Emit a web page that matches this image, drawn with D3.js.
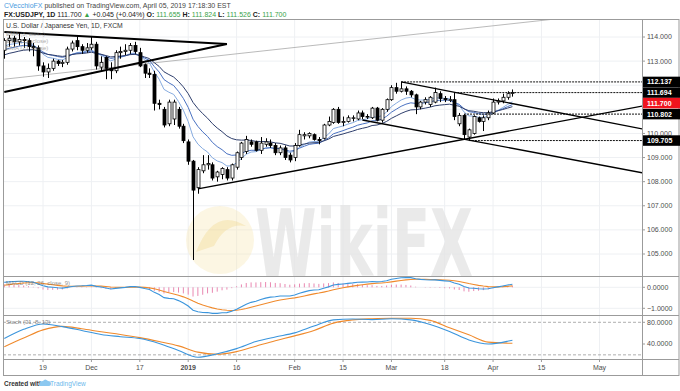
<!DOCTYPE html>
<meta charset="utf-8">
<style>
body { margin: 0; background: #fff; }
svg { display: block; font-family: "Liberation Sans", Arial, sans-serif; }
.tick-label { fill: #4d4d4d; font-size: 7px; }
</style>
<body>
<script src="https://d3js.org/d3.v7.min.js"></script>
<script>

// daily candles: date, open, high, low, close
var ohlc = [
  ["2018-11-07",113.45,113.95,113.10,113.85],["2018-11-08",113.85,114.08,113.60,113.95],
  ["2018-11-09",113.95,114.05,113.60,113.80],["2018-11-12",113.80,114.20,113.65,113.90],
  ["2018-11-13",113.90,114.00,113.55,113.85],["2018-11-14",113.85,113.95,113.40,113.60],
  ["2018-11-15",113.60,113.75,113.20,113.55],["2018-11-16",113.55,113.65,112.60,112.80],
  ["2018-11-19",112.80,112.95,112.35,112.55],["2018-11-20",112.55,112.90,112.30,112.70],
  ["2018-11-21",112.70,113.10,112.60,113.00],["2018-11-22",113.00,113.05,112.80,112.90],
  ["2018-11-23",112.90,113.05,112.75,112.95],["2018-11-26",112.95,113.60,112.85,113.50],
  ["2018-11-27",113.50,113.85,113.40,113.75],["2018-11-28",113.85,114.05,113.45,113.60],
  ["2018-11-29",113.60,113.70,113.30,113.45],["2018-11-30",113.45,113.75,113.35,113.55],
  ["2018-12-03",113.55,114.00,113.45,113.70],["2018-12-04",113.70,113.80,112.65,112.80],
  ["2018-12-05",112.75,113.20,112.55,112.95],["2018-12-06",113.15,113.20,112.25,112.70],
  ["2018-12-07",112.70,112.95,112.25,112.60],["2018-12-10",112.60,113.45,112.50,113.35],
  ["2018-12-11",113.35,113.60,113.10,113.40],["2018-12-12",113.40,113.70,113.25,113.45],
  ["2018-12-13",113.45,113.75,113.30,113.65],["2018-12-14",113.65,113.80,113.30,113.40],
  ["2018-12-17",113.35,113.55,112.75,112.80],["2018-12-18",112.85,112.90,112.30,112.50],
  ["2018-12-19",112.50,112.70,112.30,112.45],["2018-12-20",112.45,112.60,110.95,111.25],
  ["2018-12-21",111.25,111.40,111.00,111.20],["2018-12-24",111.00,111.10,110.25,110.35],
  ["2018-12-26",110.40,111.40,110.30,111.30],["2018-12-27",110.60,111.40,110.35,111.30],
  ["2018-12-28",111.00,111.10,110.20,110.30],["2018-12-31",110.30,110.40,109.60,109.70],
  ["2019-01-02",109.65,109.75,108.70,108.85],["2019-01-03",108.85,108.90,104.75,107.65],
  ["2019-01-04",107.75,108.60,107.50,108.50],["2019-01-07",108.45,109.10,108.35,108.70],
  ["2019-01-08",108.70,109.10,108.50,108.75],["2019-01-09",108.70,108.80,108.05,108.15],
  ["2019-01-10",108.20,108.45,108.00,108.40],["2019-01-11",108.30,108.60,108.10,108.55],
  ["2019-01-14",108.50,108.60,108.05,108.15],["2019-01-15",108.15,108.75,108.05,108.70],
  ["2019-01-16",108.60,109.25,108.50,109.20],["2019-01-17",109.00,109.65,108.90,109.60],
  ["2019-01-18",109.25,109.90,109.15,109.75],["2019-01-21",109.65,109.75,109.45,109.55],
  ["2019-01-22",109.65,109.70,109.25,109.30],["2019-01-23",109.30,109.85,109.15,109.60],
  ["2019-01-24",109.55,109.80,109.45,109.65],["2019-01-25",109.60,109.75,109.40,109.50],
  ["2019-01-28",109.50,109.60,109.10,109.20],["2019-01-29",109.20,109.50,109.10,109.40],
  ["2019-01-30",109.40,109.50,108.90,109.00],["2019-01-31",109.10,109.20,108.80,108.90],
  ["2019-02-01",109.00,109.60,108.85,109.50],["2019-02-04",109.50,110.15,109.45,109.95],
  ["2019-02-05",109.90,110.05,109.75,109.95],["2019-02-06",109.90,110.05,109.80,110.00],
  ["2019-02-07",109.95,110.00,109.70,109.75],["2019-02-08",109.75,109.85,109.55,109.70],
  ["2019-02-11",109.80,110.40,109.75,110.35],["2019-02-12",110.35,110.70,110.30,110.50],
  ["2019-02-13",110.45,111.05,110.40,111.00],["2019-02-14",111.00,111.10,110.40,110.45],
  ["2019-02-15",110.45,110.70,110.30,110.50],["2019-02-18",110.50,110.75,110.45,110.65],
  ["2019-02-19",110.65,110.75,110.50,110.65],["2019-02-20",110.60,110.95,110.55,110.85],
  ["2019-02-21",110.85,110.95,110.60,110.70],["2019-02-22",110.70,110.80,110.60,110.70],
  ["2019-02-25",110.65,111.10,110.60,111.05],["2019-02-26",111.05,111.10,110.50,110.55],
  ["2019-02-27",110.55,111.05,110.45,111.00],["2019-02-28",111.00,111.45,110.90,111.40],
  ["2019-03-01",111.40,112.00,111.35,111.90],["2019-03-04",111.90,112.10,111.65,111.75],
  ["2019-03-05",111.75,112.137,111.70,111.85],["2019-03-06",111.85,111.95,111.60,111.75],
  ["2019-03-07",111.75,111.80,111.50,111.60],["2019-03-08",111.60,111.65,110.80,111.10],
  ["2019-03-11",111.10,111.35,111.00,111.30],["2019-03-12",111.30,111.50,111.20,111.40],
  ["2019-03-13",111.20,111.55,111.10,111.50],["2019-03-14",111.30,111.90,111.25,111.70],
  ["2019-03-15",111.65,111.75,111.30,111.45],["2019-03-18",111.45,111.55,111.30,111.40],
  ["2019-03-19",111.40,111.55,111.30,111.40],["2019-03-20",111.40,111.694,110.55,110.70],
  ["2019-03-21",110.40,110.85,110.30,110.75],["2019-03-22",110.75,110.802,109.75,109.95],
  ["2019-03-25",109.85,110.20,109.705,110.15],["2019-03-26",110.00,110.75,109.95,110.70],
  ["2019-03-27",110.65,110.70,110.45,110.50],["2019-03-28",110.50,110.75,110.10,110.65],
  ["2019-03-29",110.65,110.95,110.55,110.85],["2019-04-01",110.85,111.45,110.80,111.30],
  ["2019-04-02",111.30,111.45,111.20,111.35],["2019-04-03",111.35,111.65,111.25,111.50],
  ["2019-04-04",111.50,111.75,111.40,111.65],["2019-04-05",111.655,111.824,111.526,111.700]
];
var holidays = ["2018-12-25", "2019-01-01"];

// moving averages (8/13/21 EMA), starting values read at the left edge
var emaLengths = [8, 13, 21];
var emaSeeds = [113.55, 113.40, 113.20];
var emaColors = ["#86abe0", "#4a72c2", "#2e3e6c"];

// MACD (12, 26, 9) starting values read at the left edge
var macdFastSeed = 113.25, macdSlowSeed = 113.05, macdSignalSeed = 0.06;

// stochastic
var stochDates = ["2018-11-07","2018-11-13","2018-11-19","2018-11-23","2018-11-29","2018-12-05",
  "2018-12-11","2018-12-17","2018-12-21","2018-12-28","2019-01-04","2019-01-10","2019-01-16",
  "2019-01-22","2019-01-28","2019-02-01","2019-02-07","2019-02-13","2019-02-19","2019-02-25",
  "2019-03-01","2019-03-07","2019-03-13","2019-03-19","2019-03-25","2019-03-29","2019-04-04","2019-04-05"];
var stochK = [50,67,77,72,65,57.5,53.5,50,41,28,15.5,22,31.5,44.5,53,60.5,73,84.5,86,85,86.5,84.5,76,63,47.5,40,45,47];
var stochD = [35,51,66,72.5,68,62.5,57.5,51.7,44.5,36.5,25,21,26,36,46,55,65,78.5,84.5,86.5,87.4,87.4,83.5,70,57,43.5,41.5,41.3];

// drawings: horizontal levels and trendlines [date1, price1, date2, price2, width]
var levelPrices = [112.137, 111.694, 110.802, 109.705];
var levelStarts = ["2019-03-05", "2019-03-20", "2019-03-22", "2019-03-25"];
var boldLines = [
  ["2018-11-07", 114.21, "2019-01-14", 113.71, 2],
  ["2018-11-07", 111.72, "2019-01-14", 113.71, 2],
  ["2019-01-04", 107.70, "2019-05-14", 111.14, 1.4],
  ["2019-03-05", 112.14, "2019-05-14", 110.18, 1.4],
  ["2019-02-21", 110.56, "2019-05-14", 108.36, 1.4]
];
var thinLines = [["2018-11-07", 112.25, "2019-04-18", 114.75]];

var timeTicks = ["2018-11-19","2018-12-03","2018-12-17","2019-01-02","2019-01-16","2019-02-01",
  "2019-02-15","2019-03-01","2019-03-18","2019-04-01","2019-04-15","2019-05-01"];
var timeLabels = ["19","Dec","17","2019","16","Feb","15","Mar","18","Apr","15","May"];
var priceTicks = [114, 113, 112, 111, 110, 109, 108, 107, 106, 105];
var macdTicks = [0, -1];
var stochTicks = [80, 40];
var lastPrice = 111.700;

var W = 680, H = 391;
var L = 3, R = 642, topY = 19, mainBot = 276, macdBot = 315, stochBot = 359, axisBot = 375;

var parse = d3.timeParse("%Y-%m-%d"), fmt = d3.timeFormat("%Y-%m-%d");
var days = d3.timeDay.range(parse("2018-11-07"), parse("2019-06-01"))
  .filter(function(d) { return d.getDay() % 6 !== 0 && holidays.indexOf(fmt(d)) < 0; })
  .map(fmt);
var idx = {};
days.forEach(function(d, i) { idx[d] = i; });

var x = d3.scaleLinear().domain([-0.27, 131.78]).range([L, R]);
var y = d3.scaleLinear().domain([105, 114]).range([254, 37]);
var yM = d3.scaleLinear().domain([-1, 0]).range([308.3, 287.3]);
var yS = d3.scaleLinear().domain([40, 80]).range([344, 322.3]);
function xd(s) { return x(idx[s]); }

function ema(values, n, seed) {
  var k = 2 / (n + 1), e = seed;
  return values.map(function(v) { e = e + k * (v - e); return e; });
}

var svg = d3.select("body").append("svg").attr("width", W).attr("height", H);
var defs = svg.append("defs");
[["clipMain", topY, mainBot], ["clipMacd", mainBot, macdBot], ["clipStoch", macdBot, stochBot]].forEach(function(c) {
  defs.append("clipPath").attr("id", c[0]).append("rect")
    .attr("x", L).attr("y", c[1]).attr("width", R - L).attr("height", c[2] - c[1]);
});

// grid
var grid = svg.append("g").attr("stroke", "#eef0f3").attr("stroke-width", 1);
timeTicks.forEach(function(t) {
  grid.append("line").attr("x1", xd(t)).attr("x2", xd(t)).attr("y1", topY).attr("y2", stochBot);
});
priceTicks.forEach(function(p) {
  grid.append("line").attr("x1", L).attr("x2", R).attr("y1", y(p)).attr("y2", y(p));
});
macdTicks.forEach(function(p) {
  grid.append("line").attr("x1", L).attr("x2", R).attr("y1", yM(p)).attr("y2", yM(p));
});

// watermark
var wm = svg.append("g");
wm.append("circle").attr("cx", 220).attr("cy", 240).attr("r", 34)
  .attr("fill", "#f7e9b8").attr("opacity", 0.4);
wm.append("path").attr("d", "M196,252 Q214,206 246,226 Q226,222 214,246 Z")
  .attr("fill", "#efd27c").attr("opacity", 0.3);
wm.append("text").attr("x", 255).attr("y", 276).text("WikiFX")
  .attr("font-family", "DejaVu Sans, sans-serif").attr("font-weight", "bold")
  .attr("font-size", 92).attr("textLength", 218).attr("lengthAdjust", "spacingAndGlyphs")
  .attr("fill", "#e4e4e4").attr("opacity", 0.75);

// header
var hdr = svg.append("g").attr("font-size", 7);
var h1 = hdr.append("text").attr("x", 4).attr("y", 8).attr("fill", "#444");
h1.append("tspan").attr("fill", "#4a9be0").text("CVecchioFX");
h1.append("tspan").text(" published on TradingView.com, April 05, 2019 17:18:30 EST");
var h2 = hdr.append("text").attr("x", 4).attr("y", 17).attr("fill", "#333");
var green = "#3aa34a";
[["FX:USDJPY, 1D ", "#222", "bold"], ["111.700 ", "#222"], ["\u25B2", green], [" +0.045 (+0.04%) ", "#222"],
 ["O: ", "#222", "bold"], ["111.655 ", green], ["H: ", "#222", "bold"], ["111.824 ", green],
 ["L: ", "#222", "bold"], ["111.526 ", green], ["C: ", "#222", "bold"], ["111.700", green]]
  .forEach(function(p) {
    h2.append("tspan").attr("fill", p[1]).attr("font-weight", p[2] || "normal").text(p[0]);
  });

// main pane
var main = svg.append("g").attr("clip-path", "url(#clipMain)");
var closes = ohlc.map(function(d) { return d[4]; });

thinLines.forEach(function(l) {
  main.append("line").attr("x1", xd(l[0])).attr("y1", y(l[1])).attr("x2", xd(l[2])).attr("y2", y(l[3]))
    .attr("stroke", "#a8a8a8").attr("stroke-width", 0.8);
});

emaLengths.forEach(function(n, k) {
  var vals = ema(closes, n, emaSeeds[k]);
  main.append("path").datum(vals)
    .attr("d", d3.line().x(function(v, i) { return xd(ohlc[i][0]); }).y(function(v) { return y(v); }))
    .attr("fill", "none").attr("stroke", emaColors[k]).attr("stroke-width", 1);
});

main.selectAll("line.wick").data(ohlc).join("line").attr("class", "wick")
  .attr("x1", function(d) { return Math.round(xd(d[0])) + 0.5; })
  .attr("x2", function(d) { return Math.round(xd(d[0])) + 0.5; })
  .attr("y1", function(d) { return y(d[2]); })
  .attr("y2", function(d) { return y(d[3]); })
  .attr("stroke", "#000").attr("stroke-width", 1);
main.selectAll("rect.body").data(ohlc).join("rect").attr("class", "body")
  .attr("x", function(d) { return Math.round(xd(d[0])) - 1; })
  .attr("y", function(d) { return y(Math.max(d[1], d[4])); })
  .attr("width", 3)
  .attr("height", function(d) { return Math.max(0.6, Math.abs(y(d[1]) - y(d[4]))); })
  .attr("fill", function(d) { return d[4] >= d[1] ? "#fff" : "#000"; })
  .attr("stroke", "#000").attr("stroke-width", 0.8);

levelPrices.forEach(function(p, k) {
  main.append("line").attr("x1", xd(levelStarts[k])).attr("x2", R).attr("y1", y(p)).attr("y2", y(p))
    .attr("stroke", "#111").attr("stroke-width", 1).attr("stroke-dasharray", "2,1");
});
boldLines.forEach(function(l) {
  main.append("line").attr("x1", xd(l[0])).attr("y1", y(l[1])).attr("x2", xd(l[2])).attr("y2", y(l[3]))
    .attr("stroke", "#000").attr("stroke-width", l[4]);
});

// legend
var leg = svg.append("g").attr("font-size", 6.8);
leg.append("text").attr("x", 6).attr("y", 28).attr("fill", "#333").text("U.S. Dollar / Japanese Yen, 1D, FXCM");
emaLengths.forEach(function(n, k) {
  leg.append("text").attr("x", 6).attr("y", 36 + k * 7).attr("fill", "#777").attr("opacity", 0.6)
    .attr("font-size", 6).text("EMA (" + n + ", close)");
});

// MACD pane
var mp = svg.append("g").attr("clip-path", "url(#clipMacd)");
var fast = ema(closes, 12, macdFastSeed), slow = ema(closes, 26, macdSlowSeed);
var macd = fast.map(function(v, i) { return v - slow[i]; });
var signal = ema(macd, 9, macdSignalSeed);
mp.selectAll("line.hist").data(macd).join("line").attr("class", "hist")
  .attr("x1", function(v, i) { return xd(ohlc[i][0]); })
  .attr("x2", function(v, i) { return xd(ohlc[i][0]); })
  .attr("y1", yM(0))
  .attr("y2", function(v, i) { return yM(v - signal[i]); })
  .attr("stroke", "#e77aa8").attr("stroke-width", 0.9);
var lineI = d3.line().x(function(v, i) { return xd(ohlc[i][0]); });
mp.append("path").datum(signal).attr("d", lineI.y(function(v) { return yM(v); }))
  .attr("fill", "none").attr("stroke", "#f08a2c").attr("stroke-width", 1.1);
mp.append("path").datum(macd).attr("d", lineI.y(function(v) { return yM(v); }))
  .attr("fill", "none").attr("stroke", "#3b95dc").attr("stroke-width", 1.1);
svg.append("text").attr("x", 6).attr("y", 285).attr("font-size", 6).attr("fill", "#666").attr("opacity", 0.7)
  .text("MACD (12, 26, close, 9)");

// stochastic pane
var sp = svg.append("g").attr("clip-path", "url(#clipStoch)");
[80, 20].forEach(function(v) {
  sp.append("line").attr("x1", L).attr("x2", R).attr("y1", yS(v)).attr("y2", yS(v))
    .attr("stroke", "#9a9a9a").attr("stroke-width", 0.8).attr("stroke-dasharray", "3,2");
});
var sLine = d3.line().curve(d3.curveMonotoneX)
  .x(function(v, i) { return xd(stochDates[i]); }).y(function(v) { return yS(v); });
sp.append("path").datum(stochD).attr("d", sLine).attr("fill", "none").attr("stroke", "#f08a2c").attr("stroke-width", 1.1);
sp.append("path").datum(stochK).attr("d", sLine).attr("fill", "none").attr("stroke", "#3b95dc").attr("stroke-width", 1.1);
svg.append("text").attr("x", 6).attr("y", 324).attr("font-size", 6).attr("fill", "#666").attr("opacity", 0.8)
  .text("Stoch (31, 8, 13)");

// frame
var fr = svg.append("g").attr("stroke", "#9b9b9b").attr("stroke-width", 1).attr("fill", "none");
fr.append("rect").attr("x", L + 0.5).attr("y", topY + 0.5).attr("width", W - L - 1.5).attr("height", axisBot - topY);
[mainBot, macdBot, stochBot].forEach(function(v) {
  fr.append("line").attr("x1", L).attr("x2", W - 1).attr("y1", v + 0.5).attr("y2", v + 0.5);
});
fr.append("line").attr("x1", R + 0.5).attr("x2", R + 0.5).attr("y1", topY).attr("y2", axisBot);

// price labels on the right axis (pushed apart when they collide)
var tags = [
  {p: 112.137, c: "#000"}, {p: 111.694, c: "#000"}, {p: lastPrice, c: "#f0141e"},
  {p: 110.802, c: "#000"}, {p: 109.705, c: "#000"}
];
var lh = 10.5, prev = -1e9;
tags.forEach(function(t) { t.y = Math.max(y(t.p), prev + lh); prev = t.y; });

var axG = svg.append("g");
function axisTicks(vals, sc, fmtF) {
  vals.forEach(function(v) {
    var yy = sc(v);
    axG.append("line").attr("x1", R).attr("x2", R + 3).attr("y1", yy).attr("y2", yy).attr("stroke", "#9b9b9b");
    axG.append("text").attr("class", "tick-label").attr("x", R + 5).attr("y", yy).attr("dy", "0.35em").text(fmtF(v));
  });
}
axisTicks(priceTicks.filter(function(p) { return p !== 112 && p !== 111; }), y, d3.format(".3f"));
axisTicks(macdTicks, yM, d3.format(".4f"));
axisTicks(stochTicks, yS, d3.format(".4f"));

tags.forEach(function(t) {
  axG.append("rect").attr("x", R + 1).attr("y", t.y - lh / 2).attr("width", W - R - 1).attr("height", lh).attr("fill", t.c);
  axG.append("text").attr("x", R + 5).attr("y", t.y).attr("dy", "0.35em").attr("font-size", 7)
    .attr("font-weight", "bold").attr("fill", "#fff").text(t.p.toFixed(3));
});

// time axis
timeTicks.forEach(function(t, k) {
  axG.append("line").attr("x1", xd(t)).attr("x2", xd(t)).attr("y1", stochBot).attr("y2", stochBot + 3).attr("stroke", "#9b9b9b");
  axG.append("text").attr("class", "tick-label").attr("x", xd(t)).attr("y", 370).attr("text-anchor", "middle")
    .attr("font-weight", timeLabels[k] === "2019" ? "bold" : "normal")
    .attr("fill", timeLabels[k] === "2019" ? "#222" : "#4d4d4d").text(timeLabels[k]);
});

// footer
var ft = svg.append("g").attr("font-size", 6.5);
ft.append("text").attr("x", 4).attr("y", 386).attr("fill", "#333").attr("font-weight", "bold").text("Created with");
ft.append("path").attr("d", "M39,386 q0,-5 4,-5 q2,-3 5,0 q3,0 3,3 q0,2 -2,2 Z").attr("fill", "#8cc8f0");
ft.append("text").attr("x", 50).attr("y", 386).attr("fill", "#6ab8ec").text("TradingView");
</script>
